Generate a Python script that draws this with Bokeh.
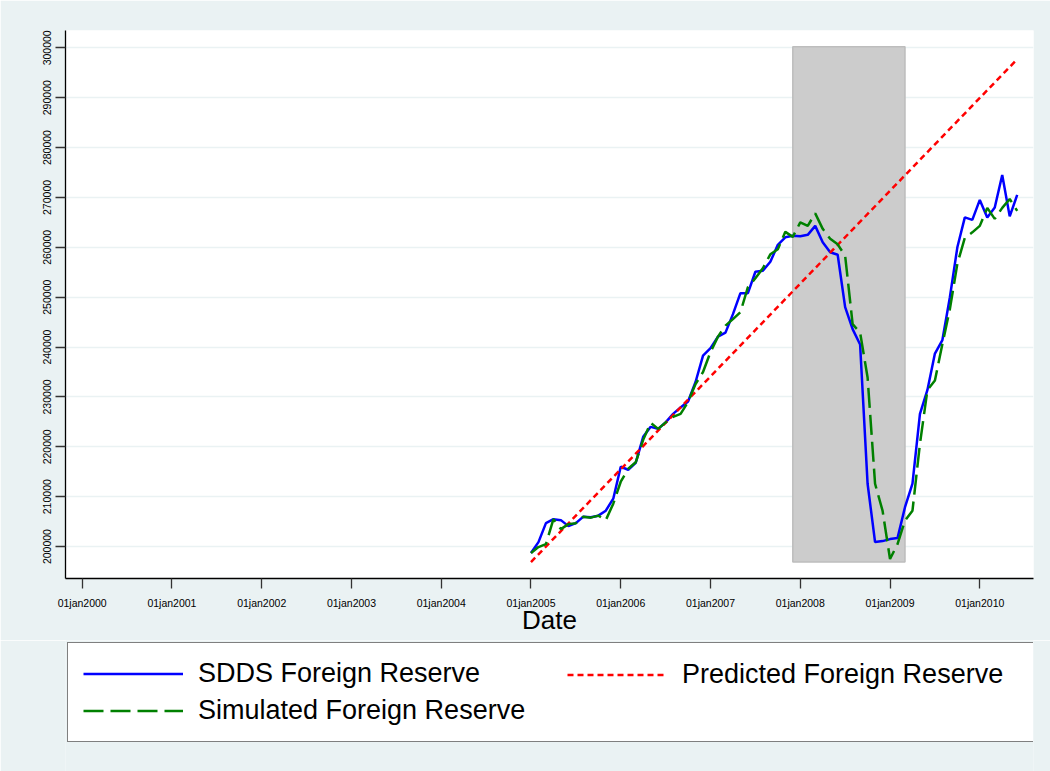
import pandas as pd
from bokeh.plotting import figure
from bokeh.layouts import column
from bokeh.models import (Range1d, FixedTicker, BasicTickFormatter, Legend,
                          LegendItem)
from bokeh.embed import file_html
from bokeh.resources import INLINE

# ---------------- data ----------------
start_month = "2005-01-01"

sdds = [198700, 200900, 204700, 205500, 205300, 204100, 204700, 206000, 205900, 206200, 207200, 209600,
        216000, 215400, 216800, 222000, 224000, 223600, 224900, 226600, 227900, 229100, 233000, 238300,
        239800, 242100, 242900, 246600, 250800, 250800, 255100, 255300, 257100, 260500, 262000, 262300,
        262200, 262500, 264300, 261000, 259000, 258500, 248000, 243600, 240500, 212600, 200900, 201100,
        201500, 201700, 207900, 212600, 226600, 231400, 238700, 241400, 250000, 260000, 266000, 265500,
        269500, 266000, 268000, 274500, 266200, 270500]

simulated = [198700, 199900, 200500, 205500, 203500, 204500, 204700, 206000, 205800, 206200, 205300, 208600,
             213000, 215600, 216900, 221400, 224800, 223600, 224900, 226000, 226600, 229000, 232600, 235000,
             239000, 242100, 244300, 245600, 247000, 252000, 253800, 255800, 258600, 259600, 263100, 262100,
             265000, 264300, 266800, 263700, 261700, 260600, 258300, 244600, 242900, 233900, 212600, 207200,
             197500, 200500, 205200, 207200, 220600, 231400, 233300, 240600, 247600, 256700, 261900, 263000,
             264300, 267900, 265700, 267900, 269700, 267300]

predicted_dates = ["2005-01-01", "2010-06-01"]
predicted = [196900, 297700]

recession_start = "2007-12-01"
recession_end = "2009-03-01"
band_bottom = 196900
band_top = 300200

tick_years = [2000, 2001, 2002, 2003, 2004, 2005, 2006, 2007, 2008, 2009, 2010]
tick_labels = ["01jan2000", "01jan2001", "01jan2002", "01jan2003", "01jan2004", "01jan2005",
               "01jan2006", "01jan2007", "01jan2008", "01jan2009", "01jan2010"]
y_ticks = [200000, 210000, 220000, 230000, 240000, 250000, 260000, 270000, 280000, 290000, 300000]

legend_labels = ["SDDS Foreign Reserve", "Predicted Foreign Reserve", "Simulated Foreign Reserve"]


# ---------------- helpers ----------------
def month_index(d):
    d = pd.Timestamp(d)
    return (d.year - 2000) * 12 + d.month - 1


dates = pd.date_range(start_month, periods=len(sdds), freq="MS")
xm = [month_index(d) for d in dates]
xp = [month_index(d) for d in predicted_dates]

FONT = "Liberation Sans"
BG = "#EAF2F3"
BLUE, RED, GREEN = "#0000FF", "#FF0000", "#008000"
RED_DASH, GREEN_DASH = "6 4", "20 7"
LW = 2.5

MAIN_H = 640
LEG_H = 771 - MAIN_H
LEFT, RIGHT = 65, 17

p = figure(width=1050, height=MAIN_H,
           x_range=Range1d(-2.23, 127.18), y_range=Range1d(193600, 303470),
           output_backend="svg", toolbar_location=None, title=None,
           min_border_left=LEFT, min_border_right=RIGHT, min_border_top=30,
           min_border_bottom=MAIN_H - 578,
           background_fill_color="white", border_fill_color=BG)
p.outline_line_color = None

# axes
tick_pos = [month_index("%d-01-01" % y) for y in tick_years]
p.xaxis.ticker = FixedTicker(ticks=tick_pos)
p.xaxis.major_label_overrides = {t: lab for t, lab in zip(tick_pos, tick_labels)}
p.xaxis.axis_label = "Date"
p.xaxis.axis_label_text_font = FONT
p.xaxis.axis_label_text_font_size = "26px"
p.xaxis.axis_label_text_font_style = "normal"
p.xaxis.axis_label_text_color = "black"
p.xaxis.axis_label_standoff = -7
p.xaxis.major_label_standoff = 8

p.yaxis.ticker = FixedTicker(ticks=y_ticks)
p.yaxis.formatter = BasicTickFormatter(use_scientific=False)
p.yaxis.major_label_orientation = "vertical"
p.yaxis.major_label_standoff = 4

for ax in (p.xaxis, p.yaxis):
    ax.major_label_text_font = FONT
    ax.major_label_text_font_size = "10.5px"
    ax.major_label_text_color = "black"
    ax.major_tick_out = 10
    ax.major_tick_in = 0
    ax.minor_tick_out = 0
    ax.minor_tick_in = 0
    ax.axis_line_color = "black"
    ax.axis_line_width = 1.3
    ax.major_tick_line_color = "#333333"
    ax.major_tick_line_width = 1.3

p.xgrid.visible = False
p.ygrid.ticker = FixedTicker(ticks=y_ticks)
p.ygrid.grid_line_color = BG
p.ygrid.grid_line_width = 1.6

# recession band
p.quad(left=[month_index(recession_start)], right=[month_index(recession_end)],
       bottom=[band_bottom], top=[band_top],
       fill_color="#CCCCCC", line_color="#BDBDBD", line_width=1.5)

p.line(xm, sdds, line_color=BLUE, line_width=LW)
p.line(xp, predicted, line_color=RED, line_width=LW, line_dash=RED_DASH)
p.line(xm, simulated, line_color=GREEN, line_width=LW, line_dash=GREEN_DASH)

# ---------------- legend strip (separate figure below) ----------------
lg = figure(width=1050, height=LEG_H, x_range=Range1d(0, 1), y_range=Range1d(0, 1),
            output_backend="svg", toolbar_location=None, title=None,
            x_axis_type=None, y_axis_type=None,
            min_border_left=LEFT, min_border_right=RIGHT, min_border_top=0, min_border_bottom=0,
            background_fill_color=BG, border_fill_color=BG)
lg.outline_line_color = None
lg.grid.visible = False

# key-only renderers (a single point draws nothing; they only supply legend styles)
k_blue = lg.line(x=[0], y=[0], line_color=BLUE, line_width=LW)
k_red = lg.line(x=[0], y=[0], line_color=RED, line_width=LW, line_dash=RED_DASH)
k_green = lg.line(x=[0], y=[0], line_color=GREEN, line_width=LW, line_dash=GREEN_DASH)

PAD, ROW, SP, GW, STAND = 15, 31, 6, 100, 15
common = dict(label_text_font=FONT, label_text_font_size="27px", label_text_color="black",
              glyph_width=GW, glyph_height=ROW, label_height=ROW, label_standoff=STAND,
              padding=PAD, spacing=SP, margin=0)

box_top = 644 - MAIN_H           # from top of legend strip
h1 = 2 * PAD + 2 * ROW + SP
h2 = 2 * PAD + ROW
box_w = 1050 - LEFT - RIGHT - 1
leg1 = Legend(items=[LegendItem(label=legend_labels[0], renderers=[k_blue]),
                     LegendItem(label=legend_labels[2], renderers=[k_green])],
              location=(2, LEG_H - box_top - h1), orientation="vertical",
              label_width=box_w - 2 - 2 * PAD - GW - STAND,
              border_line_color="black", border_line_width=1,
              background_fill_color="white", background_fill_alpha=1.0, **common)
leg2 = Legend(items=[LegendItem(label=legend_labels[1], renderers=[k_red])],
              location=(567 - PAD - LEFT, LEG_H - box_top - h2), orientation="vertical",
              border_line_color="white", border_line_alpha=0.0,
              background_fill_alpha=0.0, **common)
lg.add_layout(leg1)
lg.add_layout(leg2)

layout = column(p, lg, spacing=0)
open("out.html", "w").write(file_html(layout, INLINE))
